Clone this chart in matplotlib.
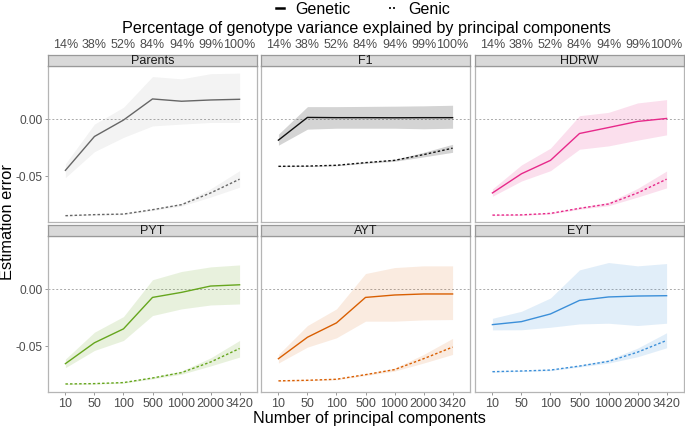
import matplotlib
matplotlib.use("Agg")
import matplotlib.pyplot as plt
from matplotlib.lines import Line2D

plt.rcParams['font.family'] = ['Liberation Sans', 'DejaVu Sans']

n_pcs = ['10', '50', '100', '500', '1000', '2000', '3420']
pct_labels = ['14%', '38%', '52%', '84%', '94%', '99%', '100%']
panels = ['Parents', 'F1', 'HDRW', 'PYT', 'AYT', 'EYT']
colors = ['#666666', '#111111', '#e7298a', '#66a61e', '#d95f02', '#3b8fd9']
fill_alpha = [0.08, 0.18, 0.15, 0.15, 0.12, 0.15]

# genetic error: mean, lower, upper
genetic_mean = {
    'Parents': [-0.0447, -0.0152, -0.0009, 0.0175, 0.0155, 0.0166, 0.0172],
    'F1':      [-0.0184, 0.0014, 0.0012, 0.0012, 0.0011, 0.0012, 0.0012],
    'HDRW':    [-0.0644, -0.0477, -0.0360, -0.0126, -0.0074, -0.0021, 0.0005],
    'PYT':     [-0.0650, -0.0468, -0.0347, -0.0073, -0.0029, 0.0026, 0.0037],
    'AYT':     [-0.0607, -0.0420, -0.0295, -0.0073, -0.0052, -0.0043, -0.0043],
    'EYT':     [-0.0310, -0.0284, -0.0217, -0.0099, -0.0069, -0.0061, -0.0058],
}
genetic_lo = {
    'Parents': [-0.0510, -0.0284, -0.0160, -0.0060, -0.0044, -0.0030, -0.0030],
    'F1':      [-0.0228, -0.0088, -0.0080, -0.0080, -0.0080, -0.0085, -0.0080],
    'HDRW':    [-0.0673, -0.0540, -0.0450, -0.0263, -0.0234, -0.0184, -0.0138],
    'PYT':     [-0.0685, -0.0535, -0.0448, -0.0231, -0.0173, -0.0139, -0.0130],
    'AYT':     [-0.0645, -0.0506, -0.0425, -0.0280, -0.0280, -0.0269, -0.0266],
    'EYT':     [-0.0356, -0.0355, -0.0333, -0.0304, -0.0298, -0.0318, -0.0298],
}
genetic_hi = {
    'Parents': [-0.0390, -0.0044, 0.0102, 0.0370, 0.0350, 0.0395, 0.0400],
    'F1':      [-0.0132, 0.0108, 0.0108, 0.0110, 0.0112, 0.0115, 0.0120],
    'HDRW':    [-0.0609, -0.0400, -0.0254, 0.0029, 0.0058, 0.0140, 0.0169],
    'PYT':     [-0.0610, -0.0376, -0.0240, 0.0081, 0.0153, 0.0193, 0.0210],
    'AYT':     [-0.0570, -0.0318, -0.0173, 0.0135, 0.0187, 0.0202, 0.0202],
    'EYT':     [-0.0255, -0.0194, -0.0078, 0.0167, 0.0231, 0.0202, 0.0222],
}

# genic error: mean, lower, upper
genic_mean = {
    'Parents': [-0.0842, -0.0833, -0.0828, -0.0790, -0.0746, -0.0644, -0.0524],
    'F1':      [-0.0412, -0.0410, -0.0403, -0.0380, -0.0360, -0.0310, -0.0254],
    'HDRW':    [-0.0837, -0.0835, -0.0822, -0.0778, -0.0740, -0.0644, -0.0524],
    'PYT':     [-0.0827, -0.0824, -0.0815, -0.0775, -0.0728, -0.0636, -0.0518],
    'AYT':     [-0.0800, -0.0795, -0.0786, -0.0746, -0.0702, -0.0607, -0.0506],
    'EYT':     [-0.0720, -0.0714, -0.0706, -0.0671, -0.0630, -0.0550, -0.0448],
}
genic_lo = {
    'Parents': [-0.0846, -0.0837, -0.0833, -0.0797, -0.0758, -0.0680, -0.0594],
    'F1':      [-0.0415, -0.0413, -0.0407, -0.0386, -0.0368, -0.0330, -0.0290],
    'HDRW':    [-0.0841, -0.0839, -0.0827, -0.0786, -0.0755, -0.0680, -0.0600],
    'PYT':     [-0.0831, -0.0828, -0.0820, -0.0783, -0.0742, -0.0670, -0.0593],
    'AYT':     [-0.0804, -0.0799, -0.0791, -0.0754, -0.0715, -0.0645, -0.0570],
    'EYT':     [-0.0724, -0.0718, -0.0711, -0.0679, -0.0645, -0.0590, -0.0512],
}
genic_hi = {
    'Parents': [-0.0838, -0.0829, -0.0823, -0.0783, -0.0734, -0.0608, -0.0450],
    'F1':      [-0.0409, -0.0407, -0.0399, -0.0374, -0.0352, -0.0290, -0.0220],
    'HDRW':    [-0.0833, -0.0831, -0.0817, -0.0770, -0.0725, -0.0605, -0.0453],
    'PYT':     [-0.0823, -0.0820, -0.0810, -0.0767, -0.0714, -0.0600, -0.0448],
    'AYT':     [-0.0796, -0.0791, -0.0781, -0.0738, -0.0689, -0.0570, -0.0430],
    'EYT':     [-0.0716, -0.0710, -0.0701, -0.0663, -0.0615, -0.0515, -0.0381],
}

W, H = 685, 428
fig = plt.figure(figsize=(W / 100, H / 100), dpi=100)

col_x = [48, 261, 475]
panel_w = 209
row_y = [66, 236]      # top of plot area (px)
panel_h = 156
strip_h = 11

def fbox(x0, y0, w, h):
    return [x0 / W, 1 - (y0 + h) / H, w / W, h / H]

xs = list(range(1, len(n_pcs) + 1))
frame_col = '#b5b5b5'
tick_col = '#4d4d4d'

for i, name in enumerate(panels):
    r, c = divmod(i, 3)
    ax = fig.add_axes(fbox(col_x[c], row_y[r], panel_w, panel_h))
    col = colors[i]
    a = fill_alpha[i]
    ax.fill_between(xs, genetic_lo[name], genetic_hi[name], color=col, alpha=a, lw=0)
    ax.fill_between(xs, genic_lo[name], genic_hi[name], color=col, alpha=a, lw=0)
    ax.plot(xs, genetic_mean[name], color=col, lw=1.0)
    ax.plot(xs, genic_mean[name], color=col, lw=1.0, ls=(0, (1.8, 1.5)))
    ax.axhline(0, color='#aaaaaa', lw=0.7, ls=(0, (2, 2)), zorder=0)
    ax.set_xlim(0.4, 7.6)
    ax.set_ylim(-0.0897, 0.0462)
    ax.set_yticks([-0.05, 0.0])
    for s in ax.spines.values():
        s.set_color(frame_col)
        s.set_linewidth(0.9)
    ax.tick_params(color='#888888', length=2.5, width=0.6, labelcolor=tick_col, labelsize=8.6)
    if c == 0:
        ax.set_yticklabels(['-0.05', '0.00'])
        ax.tick_params(axis='y', pad=1.5)
    else:
        ax.tick_params(axis='y', length=0, labelleft=False)
    ax.set_xticks(xs)
    if r == 1:
        ax.set_xticklabels(n_pcs)
        ax.tick_params(axis='x', pad=2, labelsize=9)
    else:
        ax.tick_params(axis='x', length=0, labelbottom=False)

    # facet strip
    sax = fig.add_axes(fbox(col_x[c], row_y[r] - strip_h, panel_w, strip_h))
    sax.set_facecolor('#d9d9d9')
    for s in sax.spines.values():
        s.set_color('#999999')
        s.set_linewidth(0.9)
    sax.set_xlim(0.4, 7.6)
    sax.set_yticks([])
    sax.text(0.5, 0.45, name, transform=sax.transAxes, ha='center', va='center',
             fontsize=9, color='#1a1a1a')
    if r == 0:
        sax.xaxis.tick_top()
        sax.set_xticks(xs)
        sax.set_xticklabels(pct_labels)
        sax.tick_params(axis='x', length=0, pad=3, labelsize=9, labelcolor=tick_col)
    else:
        sax.set_xticks([])

fig.text(366 / W, 1 - 28 / H, 'Percentage of genotype variance explained by principal components',
         ha='center', va='center', fontsize=11.6)
fig.text(369 / W, 1 - 419 / H, 'Number of principal components', ha='center', va='center', fontsize=11.6)
fig.text(8 / W, 1 - 222 / H, 'Estimation error', ha='center', va='center', rotation=90, fontsize=11.8)

handles = [Line2D([], [], color='black', lw=1.8),
           Line2D([], [], color='black', lw=1.2, ls=(0, (1.2, 1.2)))]
fig.legend(handles, ['Genetic', 'Genic'], loc='center', bbox_to_anchor=(363 / W, 1 - 9 / H),
           ncol=2, frameon=False, fontsize=11.5, handlelength=0.5, columnspacing=2.4,
           handletextpad=0.7, borderpad=0)

fig.savefig('out.png', dpi=100)
